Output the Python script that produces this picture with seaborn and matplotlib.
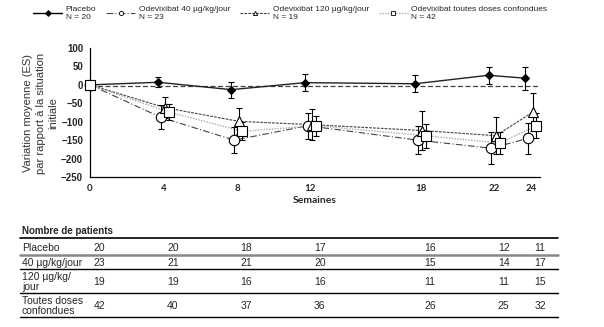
import numpy as np
import pandas as pd
import matplotlib
matplotlib.use("Agg")
import matplotlib.pyplot as plt
import matplotlib.transforms as mtransforms
from matplotlib.lines import Line2D
import seaborn as sns

# ---- data ----
weeks = [0, 4, 8, 12, 18, 22, 24]
placebo_mean = [0, 7, -13, 6, 3, 26, 18]
placebo_se = [0, 14, 22, 24, 23, 23, 31]
d40_mean = [0, -88, -150, -111, -150, -172, -145]
d40_se = [0, 33, 36, 36, 38, 43, 42]
d120_mean = [0, -62, -99, -108, -124, -138, -74]
d120_se = [0, 28, 35, 42, 52, 50, 52]
all_mean = [0, -74, -126, -111, -138, -158, -111]
all_se = [0, 22, 24, 27, 32, 30, 34]

legend_labels = ["Placebo\nN = 20", "Odevixibat 40 µg/kg/jour\nN = 23",
                 "Odevixibat 120 µg/kg/jour\nN = 19",
                 "Odevixibat toutes doses confondues\nN = 42"]
ylabel_lines = ["Variation moyenne (ES)", "par rapport à la situation", "initiale"]
row_labels = ["Placebo", "40 µg/kg/jour", "120 µg/kg/\njour", "Toutes doses\nconfondues"]
n_placebo = [20, 20, 18, 17, 16, 12, 11]
n_40 = [23, 21, 21, 20, 15, 14, 17]
n_120 = [19, 19, 16, 16, 11, 11, 15]
n_all = [42, 40, 37, 36, 26, 25, 32]

sns.set_theme(style="white")
plt.rcParams['font.family'] = ['Liberation Sans', 'DejaVu Sans']

fig = plt.figure(figsize=(6.04, 3.27), dpi=100)
ax = fig.add_axes([90/604, 1-177/327, 450/604, 129/327])

styles = [
    dict(mean=placebo_mean, se=placebo_se, off=-0.3, color="#222222", ls="-", lw=1.0,
         marker="D", ms=4.5, mfc="black", lab=legend_labels[0]),
    dict(mean=d40_mean, se=d40_se, off=-0.15, color="#444444", ls=(0, (6, 2, 1, 2)), lw=0.8,
         marker="o", ms=7.5, mfc="white", lab=legend_labels[1]),
    dict(mean=d120_mean, se=d120_se, off=0.1, color="#444444", ls=(0, (2.5, 1)), lw=0.8,
         marker="^", ms=7.5, mfc="white", lab=legend_labels[2]),
    dict(mean=all_mean, se=all_se, off=0.3, color="#aaaaaa", ls=(0, (1, 1)), lw=1.0,
         marker="s", ms=6.5, mfc="white", lab=legend_labels[3]),
]

ax.plot([0, 24.5], [-4, -4], color="#444444", lw=0.9, ls=(0, (4, 2)), zorder=1)

handles = []
for s in styles:
    x = np.array(weeks, dtype=float)
    x = np.where(x == 0, 0, x + s["off"])
    df = pd.DataFrame({"x": x, "y": s["mean"]})
    sns.lineplot(data=df, x="x", y="y", ax=ax, color=s["color"], linestyle=s["ls"],
                 linewidth=s["lw"], zorder=2, legend=False)
    ax.errorbar(x, s["mean"], yerr=s["se"], fmt="none", ecolor="black",
                elinewidth=0.8, capsize=2.2, capthick=0.8, zorder=3)
    ax.plot(x, s["mean"], linestyle="none", marker=s["marker"], ms=s["ms"],
            mfc=s["mfc"], mec="black", mew=0.8, zorder=4, clip_on=False)
    handles.append(Line2D([], [], color=s["color"] if s["color"] != "#222222" else "black",
                          linestyle=s["ls"], lw=s["lw"], marker=s["marker"],
                          ms=3, mfc=s["mfc"], mec="black", mew=0.6))

ax.set_xlim(0, 24.5)
ax.set_ylim(-250, 100)
ax.set_xticks(weeks)
ax.set_yticks(np.arange(-250, 101, 50))
for sp in ["top", "right"]:
    ax.spines[sp].set_visible(False)
for sp in ["left", "bottom"]:
    ax.spines[sp].set_color("black")
    ax.spines[sp].set_linewidth(0.9)
ax.tick_params(axis="y", direction="out", length=3, width=0.8, color="black",
               labelsize=7, pad=2)
ax.tick_params(axis="x", direction="inout", length=4, width=0.8, color="black",
               labelsize=7, pad=3)
for t in ax.get_yticklabels():
    t.set_fontweight("bold")
for t in ax.get_xticklabels():
    t.set_fontweight("bold")
    t.set_family(["Lato", "DejaVu Sans"])
ax.set_xlabel("Semaines", fontsize=7.5, fontweight="bold", family=["Lato", "DejaVu Sans"],
              labelpad=2)
ax.set_ylabel("")
for i, line in enumerate(ylabel_lines):
    fig.text((28 + 12.5*i)/604, 1-113/327, line, rotation=90, ha="center", va="center",
             fontsize=8, color="#333333")

fig.legend(handles, legend_labels, loc="upper left", bbox_to_anchor=(33/604, 1-6/327),
           ncol=4, frameon=False, fontsize=6, handlelength=3.5, handletextpad=0.4,
           columnspacing=1.2, borderaxespad=0, borderpad=0)

# ---- table ----
tr = mtransforms.blended_transform_factory(ax.transData, fig.transFigure)
def fy(p):
    return 1 - p/327

fig.text(22/604, fy(231), "Nombre de patients", fontsize=7, fontweight="bold",
         va="center", ha="left")
rows = [(n_placebo, 248), (n_40, 262.5), (n_120, 282), (n_all, 306)]
for (vals, ypix), lab in zip(rows, row_labels):
    fig.text(22/604, fy(ypix), lab, fontsize=7.5, va="center", ha="left", linespacing=1.0)
    for w, v in zip(weeks, vals):
        ax.text(w + 0.2, fy(ypix), str(v), transform=tr, fontsize=7.5, va="center",
                ha="left", clip_on=False)

for ypix, col, lw in [(238, "black", 1.2), (255, "#888888", 1.8), (269, "black", 1.0),
                      (293, "black", 1.0), (317, "black", 1.0)]:
    fig.add_artist(Line2D([20/604, 558/604], [fy(ypix), fy(ypix)], color=col, lw=lw,
                          transform=fig.transFigure))

fig.savefig("out.png", dpi=100)
